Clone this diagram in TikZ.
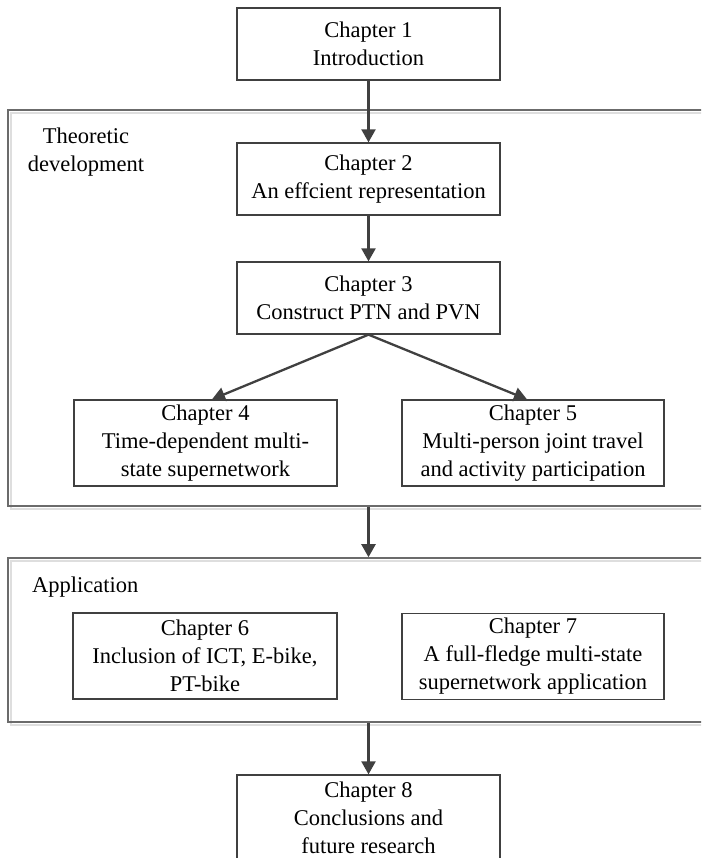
\documentclass[tikz,border=0pt]{standalone}
\usepackage{fontspec}
\setmainfont{Liberation Serif}
\usetikzlibrary{arrows.meta,calc}
\begin{document}
\begin{tikzpicture}[x=1pt,y=-1pt,
  chapbox/.style={draw=black!75,line width=1.3pt,inner sep=0pt,align=center,
    font=\fontsize{22.5}{28}\selectfont},
  groupframe/.style={draw=black!58,line width=1.6pt,inner sep=0pt,
    preaction={draw=black!13,line width=1.6pt,transform canvas={shift={(3pt,-3pt)}}}},
  grouplabel/.style={inner sep=0pt,align=center,font=\fontsize{22.5}{28.5}\selectfont},
  flow/.style={draw=black!75,line width=2.3pt,-{Triangle[length=13pt,width=14pt]}}]
\useasboundingbox (0,0) rectangle (701,858);
\clip (0,0) rectangle (701,858);
% group frames
\node[groupframe,minimum width=712pt,minimum height=396pt] (theo) at (364,308) {};
\node[groupframe,minimum width=712pt,minimum height=164pt] (app) at (364,640) {};
\node[grouplabel,anchor=north] (theolab) at (86,127.5) {Theoretic\\development};
\node[grouplabel,anchor=base west] (applab) at (32,592) {Application};
% chapter boxes
\node[chapbox,minimum width=263pt,minimum height=72pt] (b1) at (368.5,44) {Chapter 1\\Introduction};
\node[chapbox,minimum width=263pt,minimum height=72pt] (b2) at (368.5,179) {Chapter 2\\An effcient representation};
\node[chapbox,minimum width=263pt,minimum height=72pt] (b3) at (368.5,298) {Chapter 3\\Construct PTN and PVN};
\node[chapbox,minimum width=263pt,minimum height=86pt] (b4) at (205.5,443) {Chapter 4\\Time-dependent multi-\\state supernetwork};
\node[chapbox,minimum width=262pt,minimum height=86pt] (b5) at (533,443) {Chapter 5\\Multi-person joint travel\\and activity participation};
\node[chapbox,minimum width=264pt,minimum height=86pt] (b6) at (205,656) {Chapter 6\\Inclusion of ICT, E-bike,\\PT-bike};
\node[chapbox,minimum width=262pt,minimum height=86pt] (b7) at (533,656.5) {Chapter 7\\A full-fledge multi-state\\supernetwork application};
\node[chapbox,minimum width=263pt,minimum height=86pt] (b8) at (368.5,818) {Chapter 8\\Conclusions and\\future research};
% arrow targets
\coordinate (t4) at ($(b4.north)+(6.5,0)$);
\coordinate (t5) at ($(b5.north)+(-6,0)$);
% connectors
\draw[flow] (b1.south) -- (b2.north);
\draw[flow] (b2.south) -- (b3.north);
\draw[flow] (b3.south) -- (t4);
\draw[flow] (b3.south) -- (t5);
\draw[flow] (b1.south |- theo.south) -- (b1.south |- app.north);
\draw[flow] (b1.south |- app.south) -- (b8.north);
\end{tikzpicture}
\end{document}
